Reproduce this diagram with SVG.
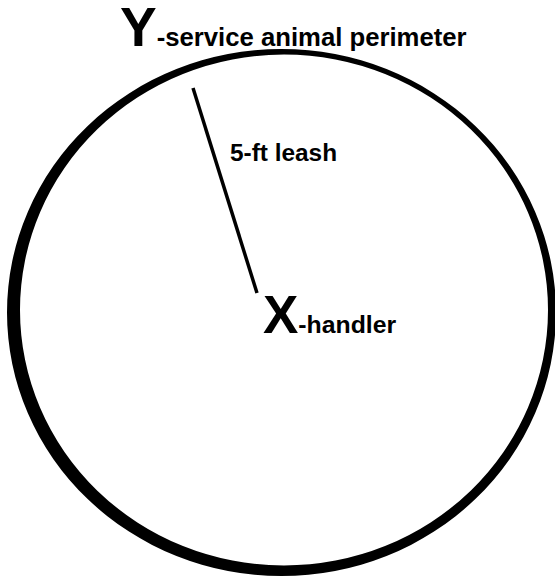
<svg xmlns="http://www.w3.org/2000/svg" width="555" height="578" viewBox="0 0 555 578">
<style>
.t{font-family:"Liberation Sans",Arial,sans-serif;font-weight:bold;fill:#000}
</style>
<rect width="555" height="578" fill="#fff"/>
<g id="perimeter">
<path fill="#000" fill-rule="evenodd" d="M7,312.5 A274.5,263.5 0 1,0 556,312.5 A274.5,263.5 0 1,0 7,312.5 Z M20,310 A264,255.5 0 1,0 548,310 A264,255.5 0 1,0 20,310 Z"/>
</g>
<g id="connectors">
<line x1="193" y1="88" x2="257" y2="293" stroke="#000" stroke-width="3.5"/>
</g>
<g id="label-y">
<text class="t" x="120" y="45.5"><tspan style="font-size:55px">Y</tspan><tspan style="font-size:25.7px">-service animal perimeter</tspan></text>
</g>
<g id="label-leash">
<text class="t" x="230" y="161" style="font-size:24.4px">5-ft leash</text>
</g>
<g id="label-x">
<text class="t" x="263" y="333"><tspan style="font-size:53px">X</tspan><tspan style="font-size:24.8px">-handler</tspan></text>
</g>
</svg>
